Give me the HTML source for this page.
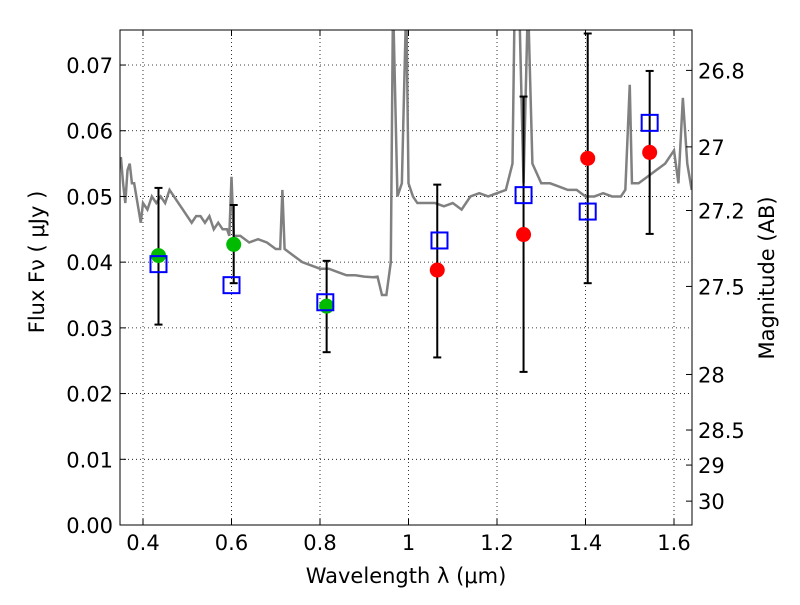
<!DOCTYPE html>
<html><head><meta charset="utf-8"><style>
body{margin:0;background:#fff;font-family:"Liberation Sans","DejaVu Sans",sans-serif}
svg text{font-family:"DejaVu Sans","Liberation Sans",sans-serif}
</style></head><body>
<svg id="chart" width="800" height="600" xmlns="http://www.w3.org/2000/svg"></svg>
<script>
const xTicks=[0.4,0.6,0.8,1.0,1.2,1.4,1.6];
const xTickLabels=["0.4","0.6","0.8","1","1.2","1.4","1.6"];
const yTicks=[0,0.01,0.02,0.03,0.04,0.05,0.06,0.07];
const yTickLabels=["0.00","0.01","0.02","0.03","0.04","0.05","0.06","0.07"];
const magTicks=[26.8,27,27.2,27.5,28,28.5,29,30];
const magTickLabels=["26.8","27","27.2","27.5","28","28.5","29","30"];
const greenX=[0.435,0.605,0.815];
const greenY=[0.0410,0.0427,0.0333];
const redX=[1.065,1.26,1.405,1.545];
const redY=[0.0388,0.0442,0.0558,0.0567];
const sqX=[0.435,0.60,0.812,1.07,1.26,1.405,1.545];
const sqY=[0.0397,0.0365,0.0339,0.0433,0.0502,0.0477,0.0612];
const errX=[0.435,0.605,0.815,1.065,1.26,1.405,1.545];
const errLo=[0.0305,0.0368,0.0263,0.0255,0.0233,0.0368,0.0443];
const errHi=[0.0513,0.0487,0.0402,0.0518,0.0652,0.0748,0.0691];
const specW=[0.35,0.355,0.36,0.365,0.37,0.375,0.38,0.39,0.395,0.40,0.41,0.42,0.43,0.44,0.45,0.46,0.47,0.48,0.49,0.50,0.51,0.52,0.53,0.54,0.55,0.56,0.57,0.58,0.59,0.595,0.600,0.605,0.62,0.64,0.66,0.68,0.70,0.71,0.715,0.72,0.74,0.76,0.78,0.80,0.82,0.84,0.86,0.88,0.90,0.92,0.93,0.94,0.95,0.96,0.965,0.975,0.985,0.995,1.0,1.01,1.02,1.04,1.06,1.08,1.10,1.12,1.14,1.16,1.18,1.20,1.22,1.235,1.24,1.25,1.26,1.27,1.28,1.30,1.32,1.34,1.36,1.38,1.40,1.42,1.44,1.46,1.48,1.49,1.50,1.505,1.52,1.54,1.56,1.58,1.60,1.61,1.62,1.63,1.64];
const specF=[0.056,0.052,0.049,0.054,0.055,0.052,0.052,0.048,0.046,0.049,0.048,0.050,0.049,0.050,0.049,0.051,0.050,0.049,0.048,0.047,0.046,0.047,0.047,0.046,0.047,0.045,0.046,0.045,0.045,0.044,0.053,0.044,0.044,0.043,0.0435,0.043,0.042,0.042,0.051,0.042,0.041,0.040,0.0395,0.039,0.039,0.0385,0.038,0.038,0.0378,0.0377,0.0378,0.035,0.035,0.040,0.080,0.050,0.052,0.080,0.052,0.050,0.049,0.049,0.049,0.0485,0.049,0.048,0.050,0.0505,0.050,0.0505,0.051,0.055,0.080,0.080,0.052,0.080,0.055,0.052,0.052,0.0515,0.051,0.051,0.050,0.050,0.0505,0.050,0.050,0.051,0.067,0.052,0.052,0.053,0.054,0.055,0.057,0.052,0.065,0.055,0.051];
const L=120,R=692,T=30,B=525;
const X=v=>143+(v-0.4)*442.5;
const Y=v=>525-v*6571;
const magToFlux=m=>Math.pow(10,(23.9-m)/2.5);
const svg=document.getElementById('chart');
const NS="http://www.w3.org/2000/svg";
function mk(tag,attrs,parent){const e=document.createElementNS(NS,tag);for(const k in attrs)e.setAttribute(k,attrs[k]);(parent||svg).appendChild(e);return e;}
const defs=mk('defs',{});const cp=mk('clipPath',{id:'cp'},defs);mk('rect',{x:L,y:T,width:R-L,height:B-T},cp);
const grid=mk('g',{});


xTicks.forEach(v=>mk('line',{x1:X(v),x2:X(v),y1:T,y2:B,stroke:'#000','stroke-dasharray':'1,3','stroke-width':0.8},grid));
yTicks.forEach(v=>mk('line',{x1:L,x2:R,y1:Y(v),y2:Y(v),stroke:'#000','stroke-dasharray':'1,3','stroke-width':0.8},grid));
const sp=mk('polyline',{points:specW.map((w,i)=>X(w)+','+Y(specF[i])).join(' '),fill:'none',stroke:'#808080','stroke-width':2.5,'clip-path':'url(#cp)'});


errX.forEach((x,i)=>{const g=mk('g',{});


mk('line',{x1:X(x),x2:X(x),y1:Y(errLo[i]),y2:Y(errHi[i]),stroke:'#000','stroke-width':2},g);
[errLo[i],errHi[i]].forEach(v=>mk('line',{x1:X(x)-4,x2:X(x)+4,y1:Y(v),y2:Y(v),stroke:'#000','stroke-width':2},g));});
greenX.forEach((x,i)=>{const c=mk('circle',{cx:X(x),cy:Y(greenY[i]),r:7.5,fill:'#00bb00'});

});
redX.forEach((x,i)=>{const c=mk('circle',{cx:X(x),cy:Y(redY[i]),r:7.5,fill:'#ff0000'});

});
sqX.forEach((x,i)=>{const r=mk('rect',{x:X(x)-8,y:Y(sqY[i])-8,width:16,height:16,fill:'none',stroke:'#0000ff','stroke-width':2});

});
mk('rect',{x:L,y:T,width:R-L,height:B-T,fill:'none',stroke:'#000','stroke-width':1});
xTicks.forEach((v,i)=>{mk('line',{x1:X(v),x2:X(v),y1:B,y2:B-6,stroke:'#000'});mk('line',{x1:X(v),x2:X(v),y1:T,y2:T+6,stroke:'#000'});
const t=mk('text',{x:X(v),y:B+25,'text-anchor':'middle','font-size':21});t.textContent=xTickLabels[i];

});
yTicks.forEach((v,i)=>{mk('line',{x1:L,x2:L+6,y1:Y(v),y2:Y(v),stroke:'#000'});
const t=mk('text',{x:L-7,y:Y(v)+8,'text-anchor':'end','font-size':21});t.textContent=yTickLabels[i];

});
magTicks.forEach((m,i)=>{const y=Y(magToFlux(m));mk('line',{x1:R,x2:R-6,y1:y,y2:y,stroke:'#000'});
const t=mk('text',{x:R+6,y:y+8,'font-size':21});t.textContent=magTickLabels[i];

});
const xt=mk('text',{x:406,y:583,'text-anchor':'middle','font-size':21});xt.textContent='Wavelength  λ (μm)';


const yt=mk('text',{x:0,y:0,'text-anchor':'middle','font-size':21,transform:'translate(44,262) rotate(-90)'});yt.textContent='Flux  Fν  ( μJy )';


const rt=mk('text',{x:0,y:0,'text-anchor':'middle','font-size':21,transform:'translate(774,278) rotate(-90)'});rt.textContent='Magnitude (AB)';


</script>
</body></html>
